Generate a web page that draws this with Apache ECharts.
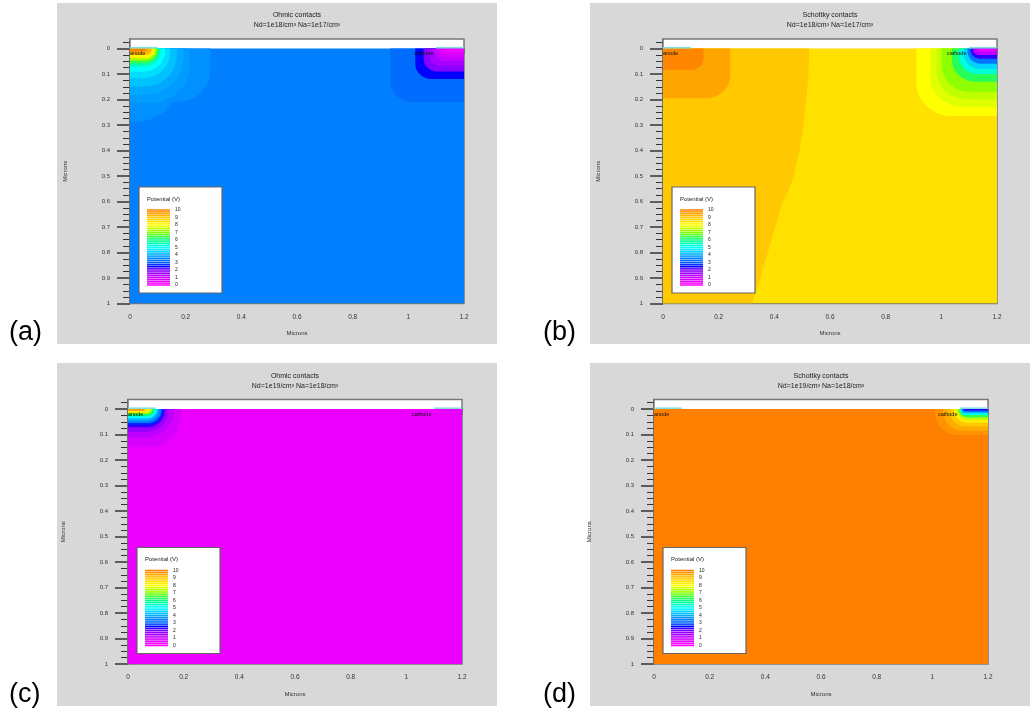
<!DOCTYPE html>
<html><head><meta charset="utf-8">
<script src="https://cdn.jsdelivr.net/npm/echarts@6/dist/echarts.min.js"></script>
<style>html,body{margin:0;padding:0;background:#fff}#c{width:1032px;height:715px}</style>
</head><body><div id="c"></div>
<script>
// ---------------- DATA ----------------
const panelLabels = ['(a)', '(b)', '(c)', '(d)'];
const titles = ['Ohmic contacts', 'Schottky contacts', 'Ohmic contacts', 'Schottky contacts'];
const subtitles = ['Nd=1e18/cm³ Na=1e17/cm³', 'Nd=1e18/cm³ Na=1e17/cm³', 'Nd=1e19/cm³ Na=1e18/cm³', 'Nd=1e19/cm³ Na=1e18/cm³'];
const axisName = 'Microns';
const xTicks = [0, 0.2, 0.4, 0.6, 0.8, 1, 1.2];
const xMinorTicks = [0.05, 0.1, 0.15, 0.25, 0.3, 0.35, 0.45, 0.5, 0.55, 0.65, 0.7, 0.75, 0.85, 0.9, 0.95, 1.05, 1.1, 1.15];
const yTicks = [0, 0.1, 0.2, 0.3, 0.4, 0.5, 0.6, 0.7, 0.8, 0.9, 1];
const yMinorTicks = [-0.025, 0.025, 0.05, 0.075, 0.125, 0.15, 0.175, 0.225, 0.25, 0.275, 0.325, 0.35, 0.375, 0.425, 0.45, 0.475, 0.525, 0.55, 0.575, 0.625, 0.65, 0.675, 0.725, 0.75, 0.775, 0.825, 0.85, 0.875, 0.925, 0.95, 0.975];
const legendTitle = 'Potential (V)';
const legendTicks = [0, 1, 2, 3, 4, 5, 6, 7, 8, 9, 10];
const legendLevels = [0, 0.25, 0.5, 0.75, 1, 1.25, 1.5, 1.75, 2, 2.25, 2.5, 2.75, 3, 3.25, 3.5, 3.75, 4, 4.25, 4.5, 4.75, 5, 5.25, 5.5, 5.75, 6, 6.25, 6.5, 6.75, 7, 7.25, 7.5, 7.75, 8, 8.25, 8.5, 8.75, 9, 9.25, 9.5, 9.75, 10];
const electrodeNames = ['anode', 'cathode'];
const electrodeSpans = [[0, 0.1], [1.1, 1.2]];
const electrodeLabelX = [0.0, 1.02];
const electrodeLabelY = [0.02, 0.02];

// background potential (V) of each panel
const backgroundV = [3.5, 8.5, 0.4, 10];

// contour regions: [width from contact edge, depth, corner radius, potential] (microns, V)
const anodeA = [
  [0.288, 0.21, 0.12, 3.7], [0.17, 0.287, 0.15, 3.7], [0.216, 0.215, 0.15, 3.85],
  [0.192, 0.182, 0.14, 4.0], [0.168, 0.15, 0.12, 4.3], [0.144, 0.117, 0.1, 4.6],
  [0.126, 0.091, 0.08, 5.0], [0.111, 0.071, 0.062, 5.6], [0.102, 0.058, 0.05, 6.4],
  [0.096, 0.048, 0.042, 7.2], [0.09, 0.038, 0.033, 8.2], [0.078, 0.025, 0.022, 9.3],
  [0.06, 0.012, 0.01, 10]
];
const cathodeA = [
  [0.265, 0.21, 0.08, 3.2], [0.175, 0.12, 0.06, 2.5], [0.145, 0.09, 0.05, 1.9],
  [0.125, 0.07, 0.045, 1.5], [0.105, 0.05, 0.035, 1.1], [0.09, 0.032, 0.025, 0.7],
  [0.075, 0.015, 0.012, 0.3]
];
const anodeB = [
  [0.242, 0.195, 0.09, 9.5], [0.146, 0.084, 0.045, 9.9]
];
const cathodeB = [
  [0.29, 0.265, 0.13, 8.0], [0.24, 0.23, 0.12, 7.75], [0.216, 0.2, 0.11, 7.5],
  [0.198, 0.17, 0.1, 7.1], [0.162, 0.13, 0.085, 6.3], [0.138, 0.1, 0.07, 5.3],
  [0.12, 0.08, 0.06, 4.5], [0.106, 0.06, 0.05, 3.3], [0.095, 0.04, 0.035, 2.3],
  [0.085, 0.025, 0.02, 1.2], [0.07, 0.012, 0.01, 0.4]
];
// panel (b): region at 9 V left of this boundary (x, y in microns)
const boundaryB = [[0.525, 0], [0.523, 0.1], [0.515, 0.2], [0.505, 0.3], [0.49, 0.4], [0.47, 0.5], [0.45, 0.56], [0.43, 0.6], [0.39, 0.75], [0.355, 0.88], [0.32, 1.0]];
const boundaryBV = 9;
const anodeC = [
  [0.19, 0.15, 0.12, 0.8], [0.165, 0.11, 0.1, 1.2], [0.145, 0.09, 0.08, 1.7],
  [0.132, 0.072, 0.065, 2.3], [0.125, 0.062, 0.055, 2.7], [0.12, 0.055, 0.05, 3.5],
  [0.11, 0.045, 0.042, 4.2], [0.103, 0.036, 0.034, 5.0], [0.095, 0.028, 0.026, 6.0],
  [0.088, 0.02, 0.018, 7.2], [0.08, 0.014, 0.012, 8.3], [0.06, 0.008, 0.006, 9.6]
];
const cathodeC = [];
const anodeD = [];
const cathodeD = [
  [0.19, 0.102, 0.085, 9.75], [0.16, 0.085, 0.07, 9.4], [0.138, 0.069, 0.06, 9.0],
  [0.123, 0.054, 0.05, 8.3], [0.112, 0.042, 0.04, 7.4], [0.105, 0.032, 0.03, 6.3],
  [0.1, 0.024, 0.022, 5.2], [0.096, 0.017, 0.015, 4.2], [0.092, 0.011, 0.009, 3.0],
  [0.088, 0.006, 0.005, 2.3]
];
const anodes = [anodeA, anodeB, anodeC, anodeD];
const cathodes = [cathodeA, cathodeB, cathodeC, cathodeD];

// ---------------- STYLE / LAYOUT ----------------
const XMAX = 1.2, YMIN = -0.0375, YMAX = 1;
const stops = [[0, [255, 0, 255]], [0.5, [230, 0, 255]], [1, [204, 0, 255]], [1.5, [166, 0, 255]], [2, [128, 0, 255]],
  [2.5, [0, 0, 255]], [3, [0, 96, 255]], [3.5, [0, 128, 255]], [4, [0, 168, 255]], [4.5, [0, 212, 255]], [5, [0, 255, 255]],
  [5.5, [0, 255, 192]], [6, [0, 255, 128]], [6.5, [64, 255, 64]], [7, [128, 255, 0]], [7.5, [192, 255, 0]], [8, [255, 255, 0]],
  [8.5, [255, 225, 0]], [9, [255, 200, 0]], [9.5, [255, 165, 0]], [10, [255, 128, 0]]];
function colorOf(v) {
  if (v <= stops[0][0]) return 'rgb(' + stops[0][1].join(',') + ')';
  for (let i = 1; i < stops.length; i++) {
    if (v <= stops[i][0]) {
      const a = stops[i - 1], b = stops[i], t = (v - a[0]) / (b[0] - a[0]);
      const c = a[1].map((x, k) => Math.round(x + (b[1][k] - x) * t));
      return 'rgb(' + c.join(',') + ')';
    }
  }
  return 'rgb(' + stops[stops.length - 1][1].join(',') + ')';
}
const P = [{ x0: 130, y0: 48.5 }, { x0: 663, y0: 48.5 }, { x0: 128, y0: 409 }, { x0: 654, y0: 409 }];
const GRAY = [[57, 3, 440, 341], [590, 3, 440, 341], [57, 363, 440, 343], [590, 363, 440, 343]];
const LABELPOS = [[9, 333], [543, 333], [9, 695], [543, 695]];
const PW = 334, PH = 255;
const FONT = '"Liberation Sans", Arial, sans-serif';

const grids = [], xAxes = [], yAxes = [], series = [], graphics = [];

function fieldRenderer(pi) {
  return function (params, api) {
    const kind = api.value(0), w = api.value(1), d = api.value(2), r = api.value(3), v = api.value(4);
    let pts = [];
    const N = 16;
    if (kind === 2) {
      pts = [api.coord([0, 0]), api.coord([XMAX, 0]), api.coord([XMAX, YMAX]), api.coord([0, YMAX])];
    } else if (kind === 3) {
      pts = [api.coord([0, 0])].concat(boundaryB.map(p => api.coord(p))).concat([api.coord([0, YMAX])]);
    } else if (kind === 0) {
      pts.push(api.coord([0, 0])); pts.push(api.coord([w, 0]));
      for (let k = 0; k <= N; k++) { const t = k / N * Math.PI / 2; pts.push(api.coord([w - r + r * Math.cos(t), d - r + r * Math.sin(t)])); }
      pts.push(api.coord([0, d]));
    } else {
      pts.push(api.coord([XMAX, 0])); pts.push(api.coord([XMAX - w, 0]));
      for (let k = 0; k <= N; k++) { const t = k / N * Math.PI / 2; pts.push(api.coord([XMAX - w + r - r * Math.cos(t), d - r + r * Math.sin(t)])); }
      pts.push(api.coord([XMAX, d]));
    }
    return { type: 'polygon', shape: { points: pts }, style: { fill: colorOf(v), stroke: null } };
  };
}

for (let i = 0; i < 4; i++) {
  const { x0, y0 } = P[i];
  const gTop = y0 + YMIN * PH;
  grids.push({ left: x0, top: gTop, width: PW, height: PH * (YMAX - YMIN), show: true, backgroundColor: '#fff', borderColor: '#777', borderWidth: 1.5, z: 1 });
  grids.push({ left: x0 + 17, top: y0 + 161.5, width: 23, height: 75, show: false });
  const gMain = 2 * i, gLeg = 2 * i + 1;
  const xi = xAxes.length;
  xAxes.push({
    gridIndex: gMain, type: 'value', min: 0, max: XMAX, position: 'bottom',
    axisLine: { lineStyle: { color: '#333', width: 1.5 } },
    axisTick: { show: true, inside: false, length: 6, customValues: xTicks, lineStyle: { color: '#333', width: 1.5 } },
    axisLabel: { customValues: xTicks, fontSize: 6.5, color: '#333', margin: 10, fontFamily: FONT },
    splitLine: { show: false },
    name: axisName, nameLocation: 'middle', nameGap: 27, nameTextStyle: { fontSize: 6, color: '#333', fontFamily: FONT }
  });
  xAxes.push({
    gridIndex: gMain, type: 'value', min: 0, max: XMAX, position: 'bottom',
    axisLine: { show: false },
    axisTick: { show: true, inside: false, length: 3.5, customValues: xMinorTicks, lineStyle: { color: '#333', width: 1 } },
    axisLabel: { show: false }, splitLine: { show: false }
  });
  xAxes.push({ gridIndex: gLeg, type: 'value', min: 0, max: 1, show: false });
  const yi = yAxes.length;
  yAxes.push({
    gridIndex: gMain, type: 'value', min: YMIN, max: YMAX, inverse: true, position: 'left',
    axisLine: { lineStyle: { color: '#333', width: 1.5 } },
    axisTick: { show: true, inside: false, length: 13, customValues: yTicks, lineStyle: { color: '#333', width: 1.5 } },
    axisLabel: { customValues: yTicks, fontSize: 6, color: '#333', margin: 20, fontFamily: FONT },
    splitLine: { show: false },
    name: axisName, nameLocation: 'middle', nameGap: 62, nameRotate: 90, nameTextStyle: { fontSize: 6, color: '#333', fontFamily: FONT }
  });
  yAxes.push({
    gridIndex: gMain, type: 'value', min: YMIN, max: YMAX, inverse: true, position: 'left',
    axisLine: { show: false },
    axisTick: { show: true, inside: false, length: 7, customValues: yMinorTicks, lineStyle: { color: '#333', width: 1 } },
    axisLabel: { show: false }, splitLine: { show: false }
  });
  yAxes.push({
    gridIndex: gLeg, type: 'value', min: 0, max: 10, position: 'right', z: 20,
    axisLine: { show: false }, axisTick: { show: false }, splitLine: { show: false },
    axisLabel: { customValues: legendTicks, fontSize: 5, color: '#222', margin: 5, fontFamily: FONT }
  });

  const data = [[2, XMAX, YMAX, 0, backgroundV[i]]];
  if (i === 1) data.push([3, 0, 0, 0, boundaryBV]);
  anodes[i].forEach(a => data.push([0].concat(a)));
  cathodes[i].forEach(c => data.push([1].concat(c)));
  series.push({
    type: 'custom', xAxisIndex: xi, yAxisIndex: yi, clip: true, z: 2, silent: true,
    renderItem: fieldRenderer(i), data: data, encode: { x: 1, y: 2 }
  });
  series.push({
    type: 'custom', xAxisIndex: xi, yAxisIndex: yi, z: 3, silent: true,
    data: electrodeSpans,
    renderItem: function (params, api) {
      const a = api.coord([api.value(0), 0]), b = api.coord([api.value(1), 0]);
      return { type: 'line', shape: { x1: a[0], y1: a[1] - 0.8, x2: b[0], y2: b[1] - 0.8 }, style: { stroke: '#7fe0e0', lineWidth: 1.6 } };
    }
  });
  series.push({
    type: 'custom', xAxisIndex: xi, yAxisIndex: yi, z: 4, silent: true,
    data: electrodeNames.map((n, k) => [electrodeLabelX[k], electrodeLabelY[k], k]),
    renderItem: function (params, api) {
      const p = api.coord([api.value(0), api.value(1)]);
      return { type: 'text', x: p[0], y: p[1], style: { text: electrodeNames[api.value(2)], fontSize: 5.5, fontFamily: FONT, fill: '#111', textAlign: 'left', textVerticalAlign: 'middle', align: 'left', verticalAlign: 'middle' } };
    }
  });
  series.push({
    type: 'custom', xAxisIndex: xi + 2, yAxisIndex: yi + 2, z: 12, silent: true,
    data: legendLevels.map(v => [0.5, v]),
    renderItem: function (params, api) {
      const v = api.value(1);
      const a = api.coord([0, v + 0.1]), b = api.coord([1, v - 0.1]);
      return { type: 'rect', shape: { x: a[0], y: a[1], width: b[0] - a[0], height: b[1] - a[1] }, style: { fill: colorOf(v) } };
    }
  });

  graphics.push({ type: 'rect', z: -10, shape: { x: GRAY[i][0], y: GRAY[i][1], width: GRAY[i][2], height: GRAY[i][3] }, style: { fill: '#d8d8d8' } });
  graphics.push({ type: 'rect', z: 10, shape: { x: x0 + 9, y: y0 + 138.5, width: 83, height: 106 }, style: { fill: '#fff', stroke: '#666', lineWidth: 1.2 } });
  graphics.push({ type: 'text', z: 11, style: { text: legendTitle, x: x0 + 17, y: y0 + 150.5, fontSize: 6, fontFamily: FONT, fill: '#222', textAlign: 'left', textVerticalAlign: 'middle', align: 'left', verticalAlign: 'middle' } });
  graphics.push({ type: 'text', z: 11, style: { text: titles[i], x: x0 + PW / 2, y: y0 - 33, fontSize: 7, fontFamily: FONT, fill: '#222', textAlign: 'center', textVerticalAlign: 'middle', align: 'center', verticalAlign: 'middle' } });
  graphics.push({ type: 'text', z: 11, style: { text: subtitles[i], x: x0 + PW / 2, y: y0 - 23, fontSize: 7, fontFamily: FONT, fill: '#222', textAlign: 'center', textVerticalAlign: 'middle', align: 'center', verticalAlign: 'middle' } });
  graphics.push({ type: 'text', z: 11, style: { text: panelLabels[i], x: LABELPOS[i][0], y: LABELPOS[i][1], fontSize: 27, fontFamily: FONT, fill: '#000', textAlign: 'left', textVerticalAlign: 'middle', align: 'left', verticalAlign: 'middle' } });
}

const chart = echarts.init(document.getElementById('c'), null, { renderer: 'canvas' });
chart.setOption({
  backgroundColor: '#fff',
  animation: false,
  grid: grids, xAxis: xAxes, yAxis: yAxes, series: series,
  graphic: { elements: graphics }
});
</script></body></html>
